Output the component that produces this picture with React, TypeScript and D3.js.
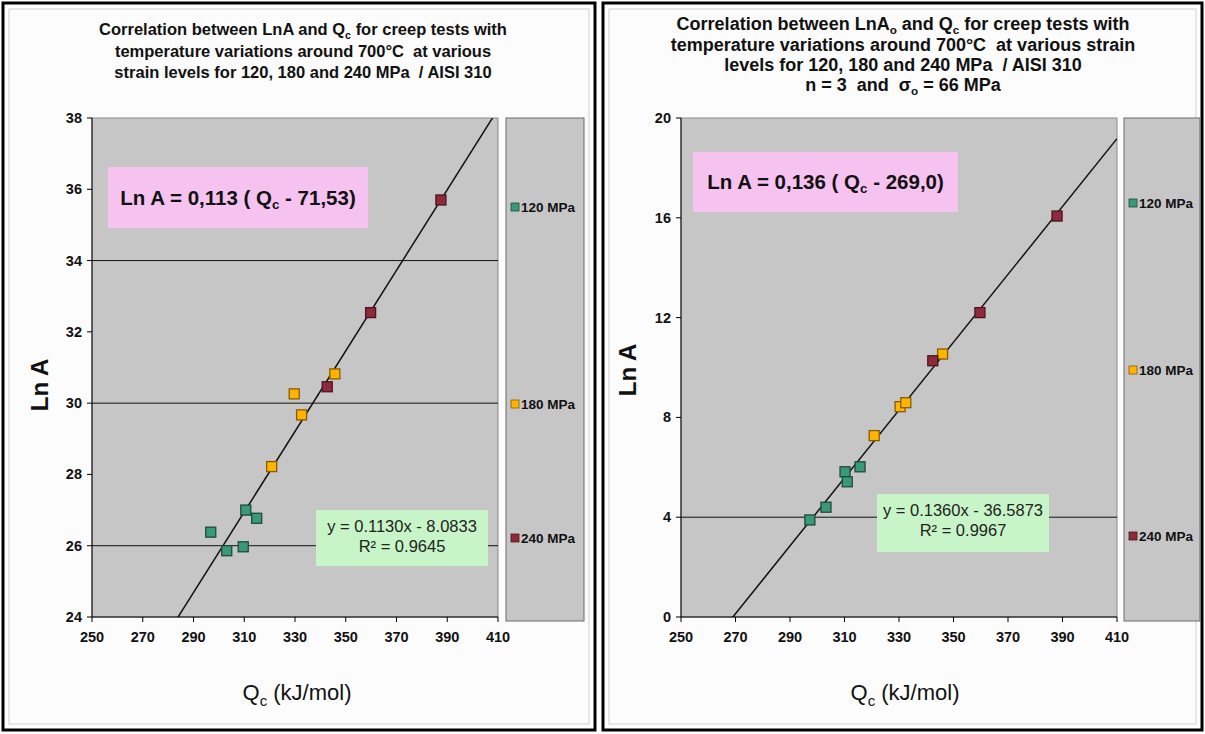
import React from "react";
import * as d3 from "d3";

// shared x axis
const qTicks = [250, 270, 290, 310, 330, 350, 370, 390, 410];
const seriesNames = ["120 MPa", "180 MPa", "240 MPa"];
const seriesFill = ["#3a9a78", "#ffb400", "#8e2b3b"];
const seriesStroke = ["#1d4a3b", "#8a5a00", "#4a1520"];

// left chart: Ln A vs Qc
const leftQ120 = [296.8, 303.1, 309.6, 310.6, 314.9];
const leftLn120 = [26.38, 25.86, 25.97, 27.0, 26.77];
const leftQ180 = [320.8, 329.7, 332.6, 345.7];
const leftLn180 = [28.22, 30.26, 29.67, 30.82];
const leftQ240 = [342.7, 359.8, 387.5];
const leftLn240 = [30.46, 32.54, 35.7];
const leftYTicks = [24, 26, 28, 30, 32, 34, 36, 38];
const leftGrid = [26, 30, 34];
const leftFit = { slope: 0.113, intercept: -8.0833 };

// right chart: Ln A0 vs Qc
const rightQ120 = [297.3, 303.2, 310.2, 311.0, 315.7];
const rightLn120 = [3.89, 4.4, 5.82, 5.42, 6.02];
const rightQ180 = [320.9, 330.4, 332.5, 346.0];
const rightLn180 = [7.27, 8.43, 8.59, 10.54];
const rightQ240 = [342.4, 359.7, 388.0];
const rightLn240 = [10.27, 12.2, 16.07];
const rightYTicks = [0, 4, 8, 12, 16, 20];
const rightGrid = [4];
const rightFit = { slope: 0.136, intercept: -36.5873 };

const FONT = "'Liberation Sans', Arial, sans-serif";
const PRE = { whiteSpace: "pre" } as React.CSSProperties;

type Cfg = {
  id: string;
  frame: [number, number, number, number];
  x0: number; x1: number; y0: number; y1: number;
  yDomain: [number, number];
  yTicks: number[];
  grid: number[];
  series: { q: number[]; ln: number[] }[];
  fit: { slope: number; intercept: number };
  legend: { x: number; w: number; items: number[] };
  title: { cx: number; size: number; lines: React.ReactNode[]; ys: number[] };
  yLabelPos: [number, number];
  xLabelX: number;
  pink: { x: number; y: number; w: number; h: number; text: React.ReactNode };
  green: { x: number; y: number; w: number; h: number; l1: string; l2: string };
};

const Panel = ({ c }: { c: Cfg }) => {
  const x = d3.scaleLinear().domain([250, 410]).range([c.x0, c.x1]);
  const y = d3.scaleLinear().domain(c.yDomain).range([c.y1, c.y0]);
  const fitLine = d3.line<number>()
    .x((q) => x(q))
    .y((q) => y(c.fit.slope * q + c.fit.intercept))([250, 410]);
  const [fx, fy, fw, fh] = c.frame;
  const ms = 10;
  return (
    <g fontFamily={FONT}>
      <rect x={fx} y={fy} width={fw} height={fh} fill="#fff" stroke="#000" strokeWidth={3} />
      <rect x={fx + 6} y={fy + 6} width={fw - 12} height={fh - 12} fill="#fcfcfc" stroke="#d0d0d0" strokeWidth={1} />
      {c.title.lines.map((l, i) => (
        <text key={i} x={c.title.cx} y={c.title.ys[i]} textAnchor="middle" fontWeight="bold" fontSize={c.title.size} fill="#111" style={PRE}>
          {l}
        </text>
      ))}
      <clipPath id={`clip-${c.id}`}>
        <rect x={c.x0} y={c.y0} width={c.x1 - c.x0} height={c.y1 - c.y0} />
      </clipPath>
      <rect x={c.x0} y={c.y0} width={c.x1 - c.x0} height={c.y1 - c.y0} fill="#c6c6c6" stroke="#8a8a8a" />
      {c.grid.map((g) => (
        <line key={g} x1={c.x0} x2={c.x1} y1={y(g)} y2={y(g)} stroke="#111" strokeWidth={1} />
      ))}
      <rect x={c.pink.x} y={c.pink.y} width={c.pink.w} height={c.pink.h} fill="#f6c3f0" />
      <text x={c.pink.x + c.pink.w / 2} y={c.pink.y + c.pink.h / 2 + 7} textAnchor="middle" fontWeight="bold" fontSize={20.5} fill="#111" style={PRE}>
        {c.pink.text}
      </text>
      <rect x={c.green.x} y={c.green.y} width={c.green.w} height={c.green.h} fill="#c8f5c8" />
      <text x={c.green.x + c.green.w / 2} y={c.green.y + 22} textAnchor="middle" fontSize={16.5} fill="#222">{c.green.l1}</text>
      <text x={c.green.x + c.green.w / 2} y={c.green.y + 42} textAnchor="middle" fontSize={16.5} fill="#222">{c.green.l2}</text>
      <path d={fitLine ?? ""} stroke="#111" strokeWidth={1.5} fill="none" clipPath={`url(#clip-${c.id})`} />
      {c.series.map((s, si) =>
        s.q.map((q, i) => (
          <rect key={`${si}-${i}`} x={x(q) - ms / 2} y={y(s.ln[i]) - ms / 2} width={ms} height={ms}
            fill={seriesFill[si]} stroke={seriesStroke[si]} strokeWidth={1.3} />
        ))
      )}
      {/* axes */}
      <line x1={c.x0} x2={c.x1} y1={c.y1} y2={c.y1} stroke="#000" />
      <line x1={c.x0} x2={c.x0} y1={c.y0} y2={c.y1} stroke="#000" />
      {qTicks.map((t) => (
        <g key={t}>
          <line x1={x(t)} x2={x(t)} y1={c.y1} y2={c.y1 + 5} stroke="#000" />
          <text x={x(t)} y={c.y1 + 25} textAnchor="middle" fontWeight="bold" fontSize={14.5} fill="#111">{t}</text>
        </g>
      ))}
      {c.yTicks.map((t) => (
        <g key={t}>
          <line x1={c.x0 - 5} x2={c.x0} y1={y(t)} y2={y(t)} stroke="#000" />
          <text x={c.x0 - 10} y={y(t) + 5} textAnchor="end" fontWeight="bold" fontSize={14.5} fill="#111">{t}</text>
        </g>
      ))}
      <text transform={`translate(${c.yLabelPos[0]},${c.yLabelPos[1]}) rotate(-90)`} textAnchor="middle" fontWeight="bold" fontSize={24} fill="#111">
        Ln A
      </text>
      <text x={c.xLabelX} y={700} textAnchor="middle" fontSize={22} fill="#111">
        Q<tspan fontSize={15} dy={6}>c</tspan><tspan dy={-6}> (kJ/mol)</tspan>
      </text>
      {/* legend */}
      <rect x={c.legend.x} y={c.y0} width={c.legend.w} height={c.y1 - c.y0 + 4} fill="#c6c6c6" stroke="#6a6a6a" />
      {seriesNames.map((n, i) => (
        <g key={n}>
          <rect x={c.legend.x + 5} y={c.legend.items[i] - 4} width={8} height={8} fill={seriesFill[i]} stroke={seriesStroke[i]} strokeWidth={0.8} />
          <text x={c.legend.x + 15} y={c.legend.items[i] + 4.5} fontWeight="bold" fontSize={13.5} fill="#111">{n}</text>
        </g>
      ))}
    </g>
  );
};

const sub = (s: string, size: number) => (
  <>
    <tspan fontSize={size * 0.65} dy={4}>{s}</tspan>
    <tspan dy={-4}> </tspan>
  </>
);

const leftCfg: Cfg = {
  id: "l",
  frame: [3, 3, 592, 727],
  x0: 92, x1: 498, y0: 118, y1: 617,
  yDomain: [24, 38],
  yTicks: leftYTicks,
  grid: leftGrid,
  series: [
    { q: leftQ120, ln: leftLn120 },
    { q: leftQ180, ln: leftLn180 },
    { q: leftQ240, ln: leftLn240 },
  ],
  fit: leftFit,
  legend: { x: 506, w: 78, items: [207, 404, 538] },
  title: {
    cx: 303, size: 16.5, ys: [35, 57, 78],
    lines: [
      <>Correlation between LnA and Q{sub("c", 16.5)}for creep tests with</>,
      <>temperature variations around 700°C  at various</>,
      <>strain levels for 120, 180 and 240 MPa  / AISI 310</>,
    ],
  },
  yLabelPos: [48, 385],
  xLabelX: 297,
  pink: { x: 108, y: 167, w: 260, h: 61, text: <>Ln A = 0,113 ( Q{sub("c", 20.5)}- 71,53)</> },
  green: { x: 316, y: 510, w: 172, h: 56, l1: "y = 0.1130x - 8.0833", l2: "R² = 0.9645" },
};

const rightCfg: Cfg = {
  id: "r",
  frame: [603, 3, 599, 727],
  x0: 681, x1: 1117, y0: 118, y1: 617,
  yDomain: [0, 20],
  yTicks: rightYTicks,
  grid: rightGrid,
  series: [
    { q: rightQ120, ln: rightLn120 },
    { q: rightQ180, ln: rightLn180 },
    { q: rightQ240, ln: rightLn240 },
  ],
  fit: rightFit,
  legend: { x: 1124, w: 76, items: [203, 370, 536] },
  title: {
    cx: 903, size: 18, ys: [30, 51, 71, 91],
    lines: [
      <>Correlation between LnA{sub("o", 18)}and Q{sub("c", 18)}for creep tests with</>,
      <>temperature variations around 700°C  at various strain</>,
      <>levels for 120, 180 and 240 MPa  / AISI 310</>,
      <>n = 3  and  σ{sub("o", 18)}= 66 MPa</>,
    ],
  },
  yLabelPos: [636, 370],
  xLabelX: 905,
  pink: { x: 693, y: 152, w: 265, h: 60, text: <>Ln A = 0,136 ( Q{sub("c", 20.5)}- 269,0)</> },
  green: { x: 877, y: 494, w: 172, h: 58, l1: "y = 0.1360x - 36.5873", l2: "R² = 0.9967" },
};

export default function App() {
  return (
    <svg width={1205} height={734} style={{ position: "absolute", left: 0, top: 0, background: "#fff" }}>
      <Panel c={leftCfg} />
      <Panel c={rightCfg} />
    </svg>
  );
}
